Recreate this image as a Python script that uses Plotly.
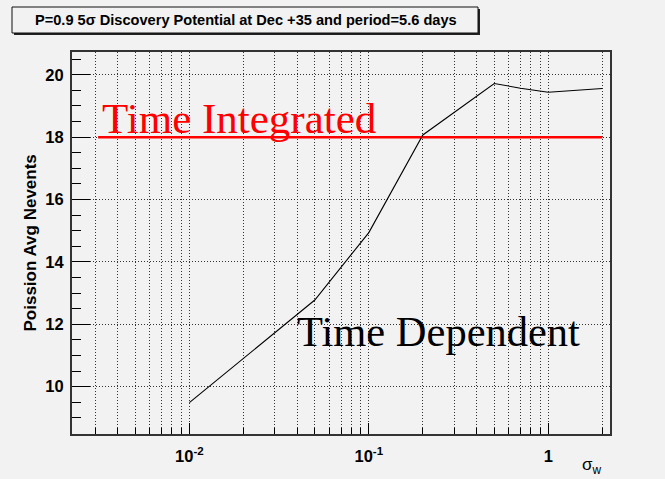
import plotly.graph_objects as go

# Discovery potential vs. Gaussian flare width sigma_w
sigma_w = [0.01, 0.05, 0.1, 0.2, 0.5, 0.7, 1.0, 2.0]
nevents_time_dep = [9.49, 12.78, 14.94, 18.07, 19.72, 19.57, 19.44, 19.56]

# Time-integrated reference level
ti_x = [0.0031, 2.0]
ti_level = [18.0, 18.0]

x_tickvals = [0.01, 0.1, 1.0]
x_ticktext = ["10<sup>-2</sup>", "10<sup>-1</sup>", "1"]
y_tickvals = [10, 12, 14, 16, 18, 20]

title_text = "P=0.9 5σ Discovery Potential at Dec +35 and period=5.6 days"
y_title = "Poission Avg Nevents"
x_title = "σ<sub>w</sub>"

BG = "#f2f2f2"
W, H = 665, 479
L, R, T, B = 72, 55, 52, 45
PW, PH = W - L - R, H - T - B


def px(xp):
    return (xp - L) / PW


def py(yp):
    return (H - B - yp) / PH


fig = go.Figure()
fig.add_trace(go.Scatter(x=ti_x, y=ti_level, mode="lines",
                         line=dict(color="#ff0000", width=2.5), showlegend=False))
fig.add_trace(go.Scatter(x=sigma_w, y=nevents_time_dep, mode="lines",
                         line=dict(color="black", width=1.1), showlegend=False))

tick_font = dict(family="Liberation Sans", size=16.5, color="black", weight="bold")
grid_dash = "1px,2px"

fig.update_xaxes(
    type="log", range=[-2.654, 0.344],
    tickmode="array", tickvals=x_tickvals, ticktext=x_ticktext,
    ticks="inside", ticklen=11, tickwidth=1, tickcolor="black",
    tickfont=tick_font, ticklabelstandoff=6,
    showgrid=True, gridcolor="#333", griddash=grid_dash, gridwidth=1,
    minor=dict(dtick="D1", ticks="inside", ticklen=6, tickcolor="black", tickwidth=1,
               showgrid=True, gridcolor="#333", griddash=grid_dash, gridwidth=1),
    showline=True, linecolor="#333", linewidth=2, mirror=True, zeroline=False,
)
fig.update_yaxes(
    range=[8.484, 20.73],
    tickmode="array", tickvals=y_tickvals,
    ticks="inside", ticklen=18, tickwidth=1, tickcolor="black",
    tickfont=tick_font, ticklabelstandoff=3,
    showgrid=True, gridcolor="#333", griddash=grid_dash, gridwidth=1,
    minor=dict(dtick=0.5, ticks="inside", ticklen=9, tickcolor="black", tickwidth=1,
               showgrid=False),
    showline=True, linecolor="#333", linewidth=2, mirror=True, zeroline=False,
)

shapes = [
    # title pave shadow and box
    dict(type="rect", xref="paper", yref="paper",
         x0=px(14), x1=px(480), y0=py(35), y1=py(9),
         fillcolor="#222", line=dict(width=0), layer="above"),
    dict(type="rect", xref="paper", yref="paper",
         x0=px(12), x1=px(478), y0=py(33), y1=py(7),
         fillcolor=BG, line=dict(color="#111", width=1), layer="above"),
]

annotations = [
    dict(text="<b>" + title_text + "</b>", xref="paper", yref="paper",
         x=px(246), y=py(20), xanchor="center", yanchor="middle", showarrow=False,
         font=dict(family="Liberation Sans", size=14.6, color="black")),
    dict(text="Time Integrated", xref="paper", yref="paper",
         x=px(100), y=py(118), xanchor="left", yanchor="middle", showarrow=False,
         font=dict(family="Liberation Serif", size=43, color="#ff0000")),
    dict(text="Time Dependent", xref="paper", yref="paper",
         x=px(295), y=py(331), xanchor="left", yanchor="middle", showarrow=False,
         font=dict(family="Liberation Serif", size=42.5, color="black")),
    dict(text="<b>" + y_title + "</b>", xref="paper", yref="paper",
         x=px(29.5), y=0.5, xanchor="center", yanchor="middle", showarrow=False,
         textangle=-90, font=dict(family="Liberation Sans", size=17, color="black")),
    dict(text=x_title, xref="paper", yref="paper",
         x=px(604), y=py(466), xanchor="right", yanchor="middle", showarrow=False,
         font=dict(family="Liberation Sans", size=17, color="black")),
]

fig.update_layout(
    width=W, height=H,
    margin=dict(l=L, r=R, t=T, b=B, pad=0),
    paper_bgcolor=BG, plot_bgcolor=BG,
    shapes=shapes, annotations=annotations,
    showlegend=False,
)

fig.write_html("out.html")
